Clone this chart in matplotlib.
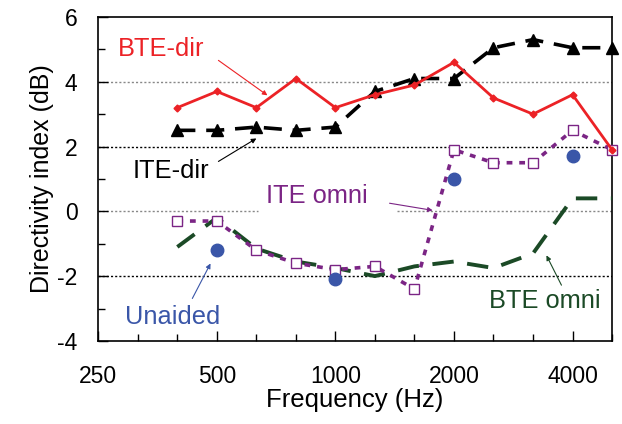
import numpy as np
import matplotlib.pyplot as plt

plt.rcParams['font.family'] = ['Liberation Sans', 'DejaVu Sans']
plt.rcParams['axes.unicode_minus'] = False

# third-octave centre frequencies, plotted on an evenly spaced index axis
freqs = [250, 315, 400, 500, 630, 800, 1000, 1250, 1600, 2000, 2500, 3150, 4000, 5000]
band_freqs = [400, 500, 630, 800, 1000, 1250, 1600, 2000, 2500, 3150, 4000, 5000]

bte_dir = [3.2, 3.7, 3.2, 4.1, 3.2, 3.6, 3.9, 4.6, 3.5, 3.0, 3.6, 1.9]
ite_dir = [2.5, 2.5, 2.6, 2.5, 2.6, 3.7, 4.1, 4.1, 5.05, 5.3, 5.05, 5.05]
ite_omni = [-0.3, -0.3, -1.2, -1.6, -1.8, -1.7, -2.4, 1.9, 1.5, 1.5, 2.5, 1.9]
bte_omni = [-1.1, -0.2, -1.15, -1.55, -1.75, -2.0, -1.7, -1.55, -1.75, -1.3, 0.4, 0.4]
unaided_freqs = [500, 1000, 2000, 4000]
unaided = [-1.2, -2.1, 1.0, 1.7]

tick_labels = ['250', '500', '1000', '2000', '4000']

def idx(fs):
    return [freqs.index(f) for f in fs]

red = '#ec2226'
purple = '#7b2585'
blue = '#3a56a8'
green = '#1b4a26'

fig = plt.figure(figsize=(6.22, 4.24), dpi=100)
ax = fig.add_axes([0.158, 0.196, 0.826, 0.764])

# horizontal reference lines (the 0 dB line leaves room for the ITE omni label)
dots = (0, (1.5, 1.5))
ax.axhline(4, color='#888888', lw=1, ls=dots, zorder=1)
ax.axhline(2, color='black', lw=1, ls=dots, zorder=1)
ax.axhline(0, xmax=0.311, color='#888888', lw=1, ls=dots, zorder=1)
ax.axhline(0, xmin=0.582, color='#888888', lw=1, ls=dots, zorder=1)
ax.axhline(-2, color='black', lw=1, ls=dots, zorder=1)

x = idx(band_freqs)
ax.plot(x, bte_omni, color=green, lw=2.8, ls=(0, (5.5, 3.5)), zorder=3, clip_on=False)
ax.plot(x, ite_omni, color=purple, lw=2.6, ls=(0, (1.6, 1.9)), marker='s', ms=6.5,
        mfc='white', mec=purple, mew=1.0, zorder=4, clip_on=False)
ax.plot(x, ite_dir, color='black', lw=2.6, ls=(0, (5, 3)), marker='^', ms=8.5,
        zorder=5, clip_on=False)
ax.plot(x, bte_dir, color=red, lw=2.0, marker='D', ms=3.5, zorder=6, clip_on=False)
ax.plot(idx(unaided_freqs), unaided, ls='none', marker='o', ms=9, color=blue,
        zorder=7, clip_on=False)

ax.set_xlim(0, 13)
ax.set_ylim(-4, 6)
ax.set_xticks(range(0, 13, 3))
ax.set_xticklabels(tick_labels)
ax.set_xticks(range(0, 14), minor=True)
ax.set_yticks(np.arange(-4, 7, 2))
ax.set_yticks(np.arange(-4, 7, 1), minor=True)
ax.tick_params(which='both', direction='in', labelsize=16.5, width=1)
ax.tick_params(which='major', length=7)
ax.tick_params(which='minor', length=5)
ax.tick_params(axis='x', which='major', pad=17)
ax.tick_params(axis='y', which='major', pad=15)
for s in ax.spines.values():
    s.set_linewidth(1.2)

ax.set_xlabel('Frequency (Hz)', fontsize=18.5, labelpad=0)
ax.set_ylabel('Directivity index (dB)', fontsize=18, labelpad=2)

arrow = dict(arrowstyle='-|>', lw=0.8, mutation_scale=7, shrinkA=0, shrinkB=0)
fs = 18.3
ax.text(1.6, 5.0, 'BTE-dir', fontsize=fs, color=red, ha='center', va='center')
ax.annotate('', xy=(4.28, 3.58), xytext=(3.04, 4.66),
            arrowprops=dict(arrow, color=red))
ax.text(1.85, 1.23, 'ITE-dir', fontsize=fs, color='black', ha='center', va='center')
ax.annotate('', xy=(4.0, 2.25), xytext=(3.04, 1.54),
            arrowprops=dict(arrow, color='black'))
ax.text(5.52, 0.46, 'ITE omni', fontsize=fs, color=purple, ha='center', va='center')
ax.annotate('', xy=(8.46, 0.03), xytext=(7.37, 0.25),
            arrowprops=dict(arrow, color=purple))
ax.text(1.87, -3.27, 'Unaided', fontsize=fs, color=blue, ha='center', va='center')
ax.annotate('', xy=(2.84, -1.61), xytext=(2.38, -2.69),
            arrowprops=dict(arrow, color=blue))
ax.text(11.29, -2.78, 'BTE omni', fontsize=fs, color=green, ha='center', va='center')
ax.annotate('', xy=(11.34, -1.36), xytext=(11.72, -2.28),
            arrowprops=dict(arrow, color=green))

fig.savefig('out.png', dpi=100)
